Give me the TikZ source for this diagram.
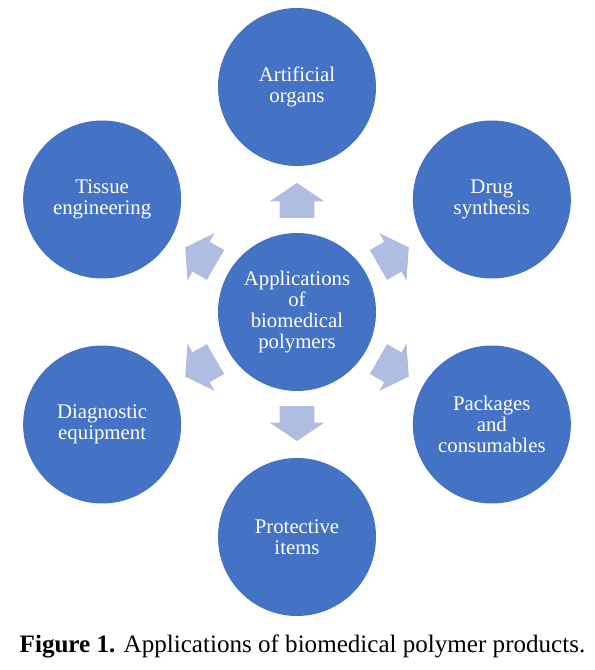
\documentclass[tikz,border=0pt]{standalone}
\usepackage{fontspec}
\setmainfont{Liberation Serif}
\usetikzlibrary{shapes.arrows}

\definecolor{circblue}{HTML}{4472C4}
\definecolor{arrblue}{HTML}{AFBDE0}

\begin{document}
\begin{tikzpicture}[x=0.75pt,y=0.75pt]
            \tikzstyle{app}=[circle,fill=circblue,text=white,minimum size=118.5pt,inner sep=0pt,align=center,
                font=\fontsize{15.6}{15.75}\selectfont]
            \tikzstyle{flow}=[single arrow,fill=arrblue,draw=none,minimum height=26.25pt,inner xsep=0pt,inner ysep=12.75pt,
                single arrow head extend=7.5pt,single arrow tip angle=112,sloped,allow upside down,pos=0.47]
            \useasboundingbox (-297,-358) rectangle (298,312);

            \node [app] (hub) at (0,0) {Applications\\of\\biomedical\\polymers}; %centre
            \node [app] (art) at (90:225) {Artificial\\organs};
            \node [app] (drug) at (30:225) {Drug\\synthesis};
            \node [app] (pack) at (-30:225) {Packages\\and\\consumables};
            \node [app] (prot) at (-90:225) {Protective\\items};
            \node [app] (diag) at (-150:225) {Diagnostic\\equipment};
            \node [app] (tiss) at (150:225) {Tissue\\engineering};

            % arrows sit about halfway between the hub and each circle
            \foreach \o in {art,drug,pack,prot,diag,tiss}
                \path (hub.center) -- (\o.center) node [flow] {};

            \node [anchor=base,font=\fontsize{18.8}{20}\selectfont] (cap) at (5.5,-340)
                {\textbf{Figure 1.} Applications of biomedical polymer products.};
\end{tikzpicture}
\end{document}
